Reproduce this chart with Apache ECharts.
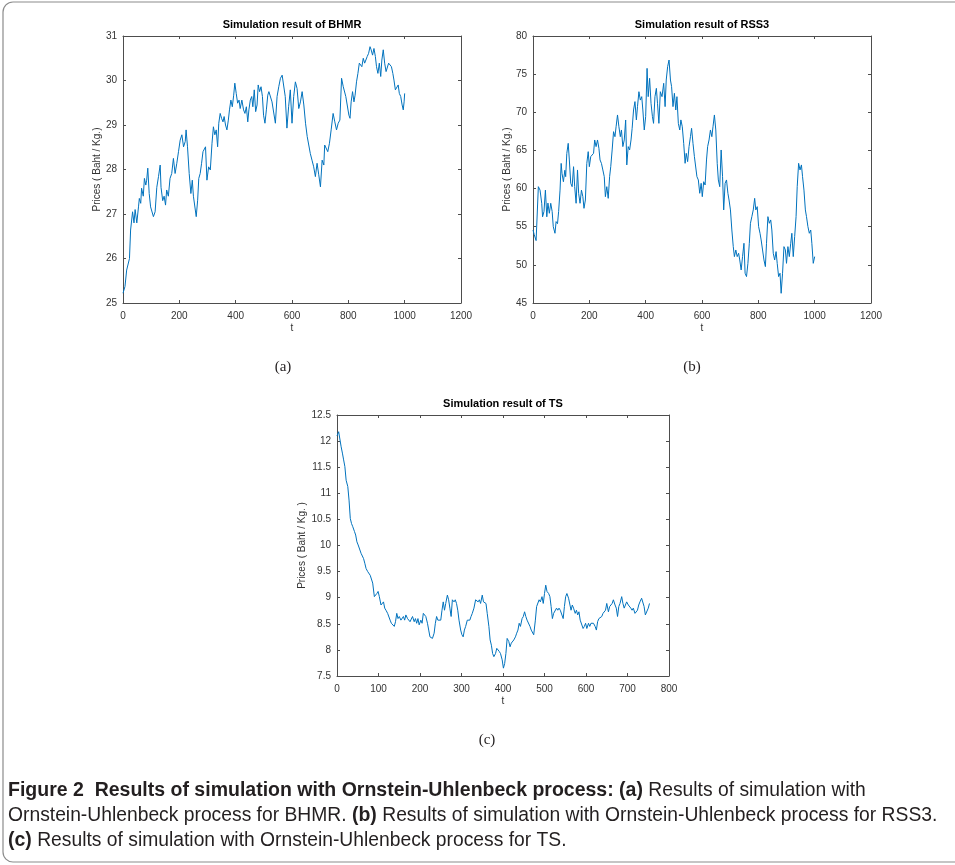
<!doctype html>
<html>
<head>
<meta charset="utf-8">
<script src="https://cdn.jsdelivr.net/npm/echarts@6/dist/echarts.min.js"></script>
<style>
    html, body { margin: 0; padding: 0; background: #fff; }
    #main { width: 955px; height: 865px; }
</style>
</head>
<body>
<div id="main"></div>
<script type="text/javascript">
    // simulated price paths, [t, price]
    var bhmr = [[0,25.22],[7,25.37],[13,25.74],[23,26.0],[27,26.64],[34,27.05],[39,26.8],[43,27.1],[49,26.8],[55,27.16],[58,27.35],[63,27.24],[66,27.58],[72,27.4],[76,27.8],[81,27.65],[84,27.76],[88,28.03],[93,27.46],[98,27.16],[108,26.94],[114,27.05],[120,27.6],[126,27.84],[132,28.1],[135,27.6],[141,27.3],[146,27.4],[151,27.2],[155,27.54],[161,27.4],[167,27.8],[173,27.91],[179,28.25],[185,27.91],[191,28.14],[197,28.4],[203,28.66],[209,28.78],[215,28.51],[221,28.63],[224,28.89],[229,28.51],[235,27.91],[241,27.46],[246,27.76],[250,27.4],[255,27.43],[260,26.94],[265,27.31],[269,27.8],[274,27.91],[279,28.14],[284,28.4],[288,28.36],[293,28.51],[298,27.76],[304,28.06],[310,27.99],[316,28.59],[321,28.96],[326,28.78],[331,28.89],[336,28.51],[340,29.04],[345,29.26],[350,29.15],[355,29.07],[359,29.19],[364,29.0],[369,28.89],[374,29.11],[378,29.34],[383,29.56],[388,29.41],[393,29.67],[397,29.94],[402,29.71],[407,29.49],[412,29.56],[416,29.37],[422,29.56],[428,29.34],[433,29.26],[438,29.41],[443,29.07],[447,29.34],[452,29.56],[457,29.64],[461,29.41],[466,29.79],[471,29.3],[476,29.45],[480,29.9],[485,29.75],[490,29.86],[495,29.64],[499,29.22],[504,29.04],[509,29.34],[514,29.67],[518,29.75],[523,29.71],[529,29.52],[535,29.56],[541,29.04],[547,29.64],[553,29.86],[559,30.05],[565,30.12],[571,30.16],[576,29.64],[582,28.93],[588,29.41],[594,29.79],[600,29.04],[606,29.64],[612,29.97],[618,29.82],[624,29.37],[630,29.52],[636,29.75],[642,29.45],[648,29.04],[654,28.74],[660,28.7],[665,28.36],[671,28.21],[677,28.06],[683,27.84],[689,28.14],[695,27.88],[701,27.61],[707,28.21],[713,28.1],[716,28.55],[721,28.55],[727,28.4],[733,28.59],[739,28.89],[746,29.26],[752,29.07],[758,28.89],[764,29.04],[770,29.11],[776,30.05],[782,29.86],[787,29.9],[791,29.64],[796,29.64],[802,29.22],[806,29.15],[810,29.52],[815,29.75],[820,29.52],[824,29.67],[829,29.97],[834,30.16],[839,30.39],[843,30.42],[848,30.31],[853,30.5],[858,30.39],[862,30.42],[867,30.54],[872,30.61],[877,30.76],[881,30.69],[886,30.57],[891,30.72],[896,30.54],[900,30.31],[905,30.16],[910,30.39],[915,30.09],[919,30.46],[924,30.69],[929,30.39],[934,30.2],[938,30.16],[943,30.39],[948,30.42],[953,30.31],[958,30.16],[962,30.01],[967,29.79],[972,29.82],[977,29.9],[981,29.71],[986,29.64],[991,29.45],[995,29.34],[998,29.52],[1000,29.71]];

    var rss3 = [[0,54.57],[4,54.0],[11,53.18],[19,60.25],[25,59.8],[31,58.07],[34,56.3],[39,57.0],[44,59.8],[49,56.3],[53,58.1],[58,56.76],[63,58.07],[68,57.0],[72,55.0],[78,54.14],[82,55.67],[87,55.4],[91,57.0],[96,59.8],[100,63.3],[103,62.0],[108,60.9],[113,62.4],[116,61.56],[120,64.6],[125,65.93],[129,63.75],[134,60.69],[139,60.25],[144,62.87],[148,60.25],[153,58.07],[158,62.44],[162,59.38],[167,58.07],[172,59.8],[177,58.94],[181,57.41],[186,58.5],[191,63.3],[196,64.84],[200,62.87],[205,64.19],[210,63.97],[215,64.62],[219,66.37],[224,65.5],[229,66.37],[234,65.28],[238,63.75],[243,63.3],[248,62.44],[253,61.56],[257,58.94],[262,60.25],[267,58.72],[272,61.56],[276,62.87],[281,65.06],[286,67.46],[291,66.8],[295,68.1],[300,69.65],[305,68.1],[310,66.8],[314,67.68],[319,65.5],[324,66.37],[329,68.99],[333,63.1],[338,65.5],[343,65.06],[348,66.37],[352,67.9],[357,70.3],[362,71.4],[367,69.0],[371,70.74],[376,72.7],[381,71.6],[386,72.05],[390,70.3],[395,67.68],[400,69.43],[405,75.76],[409,72.05],[414,74.45],[419,71.18],[424,69.43],[428,68.55],[433,72.05],[438,73.14],[442,71.18],[447,68.55],[452,72.7],[458,72.05],[464,73.8],[469,70.74],[473,74.23],[478,75.98],[483,76.85],[488,74.23],[492,73.36],[497,70.74],[502,72.49],[507,70.3],[511,72.05],[516,68.55],[521,67.68],[525,69.0],[530,68.1],[535,65.93],[540,63.31],[544,64.62],[549,63.53],[554,65.5],[559,66.8],[563,67.9],[568,65.93],[573,64.19],[578,64.4],[582,61.56],[587,61.13],[592,59.38],[597,60.69],[601,58.94],[606,60.9],[611,60.47],[616,63.75],[620,65.5],[625,66.37],[630,67.68],[635,66.8],[639,68.1],[644,69.65],[649,67.68],[654,63.31],[658,61.13],[663,60.25],[668,65.06],[673,61.56],[677,57.2],[682,60.69],[687,61.13],[692,59.38],[696,58.5],[701,57.2],[706,54.57],[711,52.39],[715,51.08],[720,51.95],[725,51.08],[730,51.52],[734,50.64],[739,49.33],[744,51.08],[749,52.83],[753,48.9],[758,48.46],[763,50.2],[768,52.83],[772,55.45],[777,56.32],[782,57.2],[787,58.72],[791,57.2],[796,57.63],[801,55.01],[806,54.14],[810,53.26],[815,51.95],[820,50.64],[825,49.77],[829,52.83],[834,56.32],[839,55.45],[844,55.89],[848,54.57],[853,51.52],[858,50.64],[863,51.74],[867,50.2],[872,48.46],[877,48.9],[881,46.27],[886,48.9],[891,52.39],[896,51.95],[900,50.2],[905,52.39],[910,51.08],[915,52.83],[919,54.14],[924,51.08],[929,53.7],[934,56.32],[938,60.25],[943,63.31],[948,62.44],[953,63.1],[957,61.56],[962,59.8],[967,57.2],[971,56.32],[976,55.01],[981,54.14],[986,54.57],[990,52.83],[995,50.2],[1000,51.08]];

    var ts = [[0,12.1],[4,12.18],[6,12.15],[10,11.89],[13,11.77],[16,11.64],[19,11.51],[22,11.25],[26,11.13],[29,10.87],[32,10.52],[35,10.42],[38,10.36],[42,10.27],[45,10.2],[48,10.07],[51,10.01],[54,9.98],[58,9.85],[61,9.88],[64,9.75],[67,9.66],[70,9.56],[74,9.5],[77,9.47],[80,9.43],[83,9.4],[86,9.28],[90,9.02],[93,8.99],[96,9.08],[99,9.12],[102,9.02],[106,8.86],[109,8.89],[112,8.92],[115,8.8],[118,8.76],[122,8.7],[125,8.67],[128,8.57],[131,8.51],[134,8.54],[138,8.45],[141,8.54],[144,8.7],[147,8.6],[150,8.64],[154,8.57],[157,8.54],[160,8.64],[163,8.57],[166,8.67],[170,8.6],[173,8.57],[176,8.54],[179,8.57],[182,8.64],[186,8.54],[189,8.6],[192,8.51],[195,8.6],[198,8.48],[202,8.57],[205,8.51],[208,8.7],[211,8.73],[214,8.64],[218,8.51],[221,8.38],[224,8.25],[227,8.22],[230,8.22],[234,8.32],[237,8.51],[240,8.64],[243,8.57],[246,8.54],[250,8.57],[253,8.76],[256,8.92],[259,8.76],[262,8.89],[266,9.05],[269,8.96],[272,8.8],[275,8.64],[278,8.96],[282,8.92],[285,8.96],[288,8.89],[291,8.76],[294,8.57],[298,8.38],[301,8.29],[304,8.25],[307,8.38],[310,8.45],[314,8.57],[317,8.6],[320,8.57],[323,8.64],[326,8.7],[330,8.8],[334,8.96],[337,8.99],[340,8.92],[343,8.96],[346,8.89],[350,9.05],[353,8.92],[356,8.92],[359,8.89],[362,8.7],[366,8.45],[369,8.19],[372,8.09],[375,7.93],[378,7.87],[382,7.93],[385,8.03],[388,8.06],[391,7.97],[394,7.93],[398,7.81],[401,7.65],[404,7.74],[407,7.93],[410,8.22],[414,8.16],[417,8.06],[420,8.13],[423,8.16],[426,8.19],[430,8.25],[433,8.32],[436,8.38],[439,8.51],[442,8.45],[446,8.6],[449,8.64],[452,8.73],[455,8.64],[458,8.57],[462,8.57],[465,8.45],[468,8.38],[471,8.41],[474,8.29],[478,8.57],[481,8.83],[484,8.86],[487,8.96],[490,8.92],[494,9.02],[497,8.89],[500,9.08],[503,9.24],[506,9.12],[510,9.08],[513,9.02],[516,8.83],[519,8.6],[522,8.7],[526,8.73],[529,8.8],[532,8.76],[535,8.8],[538,8.76],[542,8.73],[545,8.6],[548,8.83],[551,9.02],[554,9.08],[558,8.99],[561,8.96],[564,8.76],[567,8.86],[570,8.8],[574,8.7],[577,8.76],[580,8.67],[583,8.73],[586,8.57],[590,8.54],[593,8.41],[596,8.45],[599,8.51],[602,8.41],[606,8.51],[609,8.45],[612,8.51],[615,8.48],[618,8.51],[622,8.45],[625,8.38],[628,8.54],[631,8.6],[634,8.57],[638,8.64],[641,8.7],[644,8.67],[647,8.76],[650,8.89],[654,8.73],[657,8.83],[660,8.8],[663,8.89],[666,8.96],[670,8.86],[673,8.8],[676,8.64],[679,8.83],[682,8.89],[686,9.02],[689,8.89],[692,8.8],[695,8.86],[698,8.92],[702,8.86],[705,8.89],[708,8.8],[711,8.76],[714,8.8],[718,8.7],[721,8.67],[724,8.76],[727,8.86],[730,8.92],[734,8.99],[737,8.96],[740,8.83],[743,8.67],[746,8.7],[750,8.8],[753,8.89]];

    var titles = ['Simulation result of BHMR', 'Simulation result of RSS3', 'Simulation result of TS'];
    var yNames = ['Prices ( Baht / Kg.)', 'Prices ( Baht / Kg.)', 'Prices ( Baht / Kg. )'];
    var tags = ['(a)', '(b)', '(c)'];

    var panels = [
        { data: bhmr, grid: { left: 123, top: 36, width: 338, height: 267 }, x: [0, 1200, 200], y: [25, 31, 1], yGap: 18, tag: [283, 367] },
        { data: rss3, grid: { left: 533, top: 36, width: 338, height: 267 }, x: [0, 1200, 200], y: [45, 80, 5], yGap: 19, tag: [692, 367] },
        { data: ts, grid: { left: 337, top: 415, width: 332, height: 261 }, x: [0, 800, 100], y: [7.5, 12.5, 0.5], yGap: 27, tag: [487, 740] }
    ];

    var axisColor = '#4d4d4d';
    var labelFont = 'Liberation Sans';
    var plain = function (v) { return String(v); };

    var grids = [], xAxes = [], yAxes = [], series = [], graphics = [];

    panels.forEach(function (p, i) {
        grids.push(p.grid);
        var line = { show: true, onZero: false, lineStyle: { color: axisColor, width: 1 } };
        var tick = { show: true, inside: true, length: 3, lineStyle: { color: axisColor } };
        var label = { color: '#333', fontSize: 10, fontFamily: labelFont, formatter: plain };
        xAxes.push({
            type: 'value', gridIndex: i, position: 'bottom', min: p.x[0], max: p.x[1], interval: p.x[2],
            axisLine: line, axisTick: tick, axisLabel: label, splitLine: { show: false },
            name: 't', nameLocation: 'middle', nameGap: 20,
            nameTextStyle: { color: '#333', fontSize: 10, fontFamily: labelFont }
        });
        xAxes.push({
            type: 'value', gridIndex: i, position: 'top', min: p.x[0], max: p.x[1], interval: p.x[2],
            axisLine: line, axisTick: tick, axisLabel: { show: false }, splitLine: { show: false }
        });
        yAxes.push({
            type: 'value', gridIndex: i, position: 'left', min: p.y[0], max: p.y[1], interval: p.y[2],
            axisLine: line, axisTick: tick, axisLabel: Object.assign({ margin: 6 }, label), splitLine: { show: false },
            name: yNames[i], nameLocation: 'middle', nameGap: p.yGap,
            nameTextStyle: { color: '#333', fontSize: 10, fontFamily: labelFont }
        });
        yAxes.push({
            type: 'value', gridIndex: i, position: 'right', min: p.y[0], max: p.y[1], interval: p.y[2],
            axisLine: line, axisTick: tick, axisLabel: { show: false }, splitLine: { show: false }
        });
        series.push({
            type: 'line', xAxisIndex: 2 * i, yAxisIndex: 2 * i, data: p.data,
            showSymbol: false, symbol: 'none', animation: false,
            lineStyle: { color: '#0072BD', width: 1 }
        });
        graphics.push({
            type: 'text', x: p.grid.left + p.grid.width / 2, y: p.grid.top - 11,
            style: { text: titles[i], fill: '#000', font: 'bold 11px "Liberation Sans"', textAlign: 'center', textVerticalAlign: 'middle' }
        });
        graphics.push({
            type: 'text', x: p.tag[0], y: p.tag[1],
            style: { text: tags[i], fill: '#231f20', font: '15px "Liberation Serif"', textAlign: 'center', textVerticalAlign: 'middle' }
        });
    });

    // figure frame
    graphics.push({
        type: 'rect', shape: { x: 3, y: 2, width: 1000, height: 860, r: 10 },
        style: { fill: 'none', stroke: '#8c8c8c', lineWidth: 1.2 }
    });

    // caption
    var capFont = '"Liberation Sans", sans-serif';
    graphics.push({
        type: 'text', x: 8, y: 778,
        style: {
            text: '{b|Figure 2  Results of simulation with Ornstein-Uhlenbeck process: (a)}{r| Results of simulation with}\n' +
                '{r|Ornstein-Uhlenbeck process for BHMR. }{b|(b)}{r| Results of simulation with Ornstein-Uhlenbeck process for RSS3.}\n' +
                '{b|(c)}{r| Results of simulation with Ornstein-Uhlenbeck process for TS.}',
            rich: {
                b: { fontWeight: 'bold', fontSize: 19.5, fontFamily: capFont, lineHeight: 25, fill: '#231f20' },
                r: { fontSize: 19.3, fontFamily: capFont, lineHeight: 25, fill: '#231f20' }
            }
        }
    });

    var chart = echarts.init(document.getElementById('main'));
    chart.setOption({
        animation: false,
        grid: grids,
        xAxis: xAxes,
        yAxis: yAxes,
        series: series,
        graphic: graphics
    });
</script>
</body>
</html>
